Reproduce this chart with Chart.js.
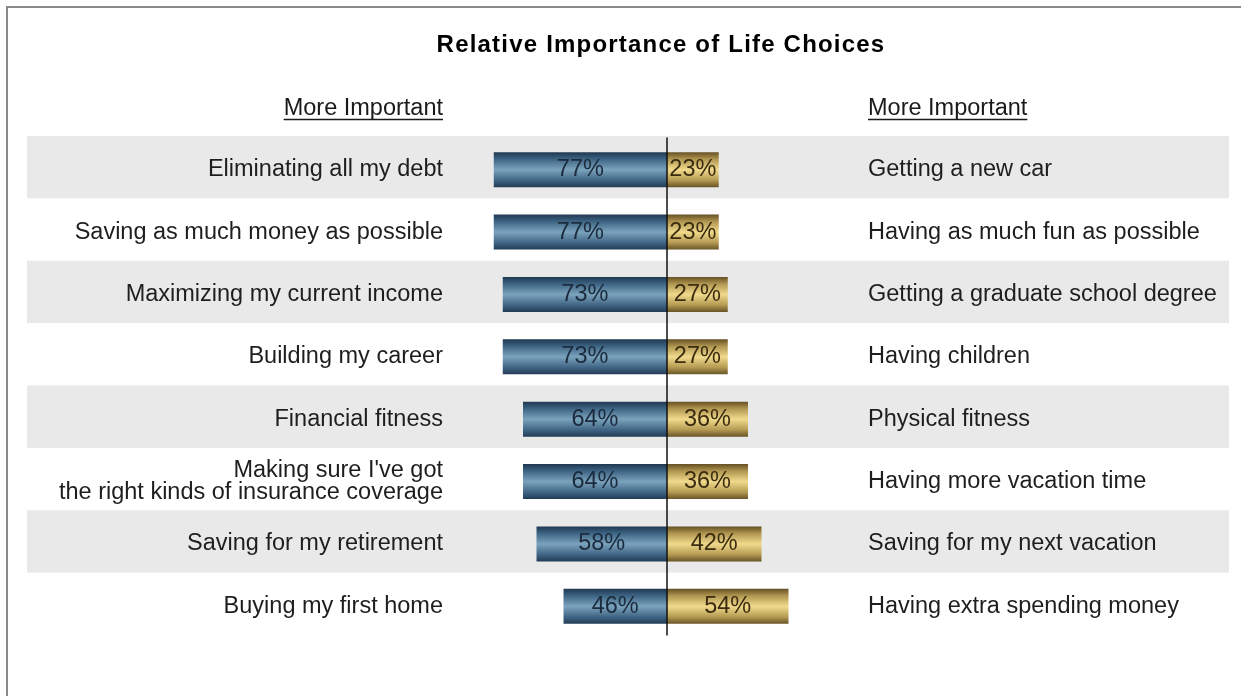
<!DOCTYPE html>
<html lang="en">
<head>
    <meta charset="UTF-8">
    <title>Relative Importance of Life Choices</title>
    <script src="https://cdn.jsdelivr.net/npm/chart.js"></script>
    <style>
        body {
            margin: 0;
            background: #fff;
            overflow: hidden;
        }
        #frame {
            position: absolute;
            left: 6px;
            top: 6px;
            width: 1300px;
            height: 800px;
            border-left: 2px solid #8a8a8a;
            border-top: 2px solid #8a8a8a;
        }
        #wrap {
            position: absolute;
            left: 0;
            top: 0;
            width: 1241px;
            height: 696px;
        }
    </style>
</head>
<body>
    <div id="frame"></div>
    <div id="wrap"><canvas id="choiceChart" width="1241" height="696"></canvas></div>

    <script>
        const chartTitle = 'Relative Importance of Life Choices';
        const headerText = 'More Important';

        const leftLabels = [
            'Eliminating all my debt',
            'Saving as much money as possible',
            'Maximizing my current income',
            'Building my career',
            'Financial fitness',
            ["Making sure I've got", 'the right kinds of insurance coverage'],
            'Saving for my retirement',
            'Buying my first home'
        ];
        const rightLabels = [
            'Getting a new car',
            'Having as much fun as possible',
            'Getting a graduate school degree',
            'Having children',
            'Physical fitness',
            'Having more vacation time',
            'Saving for my next vacation',
            'Having extra spending money'
        ];
        const leftShares = [77, 77, 73, 73, 64, 64, 58, 46];
        const rightShares = [23, 23, 27, 27, 36, 36, 42, 54];

        const FONT = '"Liberation Sans", Arial, sans-serif';

        // vertical metallic gradient for one bar
        function barGradient(context, stops) {
            const chart = context.chart;
            const yScale = chart.scales.y;
            if (!chart.chartArea || !yScale || context.dataIndex === undefined) return stops[2][1];
            const yc = yScale.getPixelForValue(context.dataIndex);
            const half = yScale.height / leftLabels.length * 0.56 / 2;
            const g = chart.ctx.createLinearGradient(0, yc - half, 0, yc + half);
            stops.forEach(s => g.addColorStop(s[0], s[1]));
            return g;
        }
        const blueStops = [[0, '#203850'], [0.18, '#3a6080'], [0.5, '#7ba3bc'], [0.82, '#3d6282'], [1, '#233c55']];
        const goldStops = [[0, '#665024'], [0.2, '#b09650'], [0.5, '#f1da8c'], [0.8, '#b59b53'], [1, '#695427']];

        // shaded bands behind every other row, plus title and column headers
        const backdrop = {
            id: 'backdrop',
            beforeDraw(chart) {
                const ctx = chart.ctx;
                const y = chart.scales.y;
                const rowH = y.height / leftLabels.length;
                ctx.save();
                ctx.fillStyle = '#e9e9e9';
                leftLabels.forEach((_, i) => {
                    if (i % 2 === 0) {
                        const yc = y.getPixelForValue(i) - 2.5;
                        ctx.fillRect(27, yc - rowH / 2, 1202, rowH);
                    }
                });

                ctx.fillStyle = '#000';
                ctx.font = 'bold 24px ' + FONT;
                ctx.letterSpacing = '1.2px';
                ctx.textAlign = 'center';
                ctx.textBaseline = 'alphabetic';
                ctx.fillText(chartTitle, 661, 52);
                ctx.letterSpacing = '0px';

                ctx.fillStyle = '#1a1a1a';
                ctx.strokeStyle = '#1a1a1a';
                ctx.lineWidth = 1.3;
                ctx.font = '23.5px ' + FONT;
                const lx = chart.scales.y.right - 8;
                const rx = chart.scales.y2.left + 7.5;
                ctx.textAlign = 'right';
                ctx.fillText(headerText, lx, 115);
                let w = ctx.measureText(headerText).width;
                ctx.beginPath();
                ctx.moveTo(lx - w, 119.5);
                ctx.lineTo(lx, 119.5);
                ctx.stroke();
                ctx.textAlign = 'left';
                ctx.fillText(headerText, rx, 115);
                ctx.beginPath();
                ctx.moveTo(rx, 119.5);
                ctx.lineTo(rx + w, 119.5);
                ctx.stroke();
                ctx.restore();
            }
        };

        // centre divider and the percentage printed inside each bar
        const barText = {
            id: 'barText',
            afterDatasetsDraw(chart) {
                const ctx = chart.ctx;
                const x0 = chart.scales.x.getPixelForValue(0);
                ctx.save();
                ctx.strokeStyle = '#111';
                ctx.lineWidth = 1.5;
                ctx.beginPath();
                ctx.moveTo(x0, chart.chartArea.top - 1);
                ctx.lineTo(x0, chart.chartArea.bottom - 2);
                ctx.stroke();

                ctx.font = '23.5px ' + FONT;
                ctx.textAlign = 'center';
                ctx.textBaseline = 'middle';
                const colors = ['#1b2b3d', '#3b2c10'];
                chart.data.datasets.forEach((ds, di) => {
                    const meta = chart.getDatasetMeta(di);
                    ctx.fillStyle = colors[di];
                    meta.data.forEach((bar, i) => {
                        const v = Math.abs(ds.data[i]);
                        ctx.fillText(v + '%', (bar.x + bar.base) / 2, bar.y);
                    });
                });
                ctx.restore();
            }
        };

        new Chart(document.getElementById('choiceChart'), {
            type: 'bar',
            data: {
                labels: leftLabels,
                datasets: [
                    {
                        data: leftShares.map(v => -v),
                        backgroundColor: c => barGradient(c, blueStops),
                        borderWidth: 0,
                        barPercentage: 0.56,
                        categoryPercentage: 1
                    },
                    {
                        data: rightShares,
                        backgroundColor: c => barGradient(c, goldStops),
                        borderWidth: 0,
                        barPercentage: 0.56,
                        categoryPercentage: 1
                    }
                ]
            },
            options: {
                indexAxis: 'y',
                responsive: false,
                animation: false,
                layout: {
                    padding: { top: 138.5, bottom: 58.5, left: 0, right: 0 }
                },
                plugins: {
                    legend: { display: false },
                    tooltip: { enabled: false },
                    title: { display: false }
                },
                scales: {
                    x: {
                        display: false,
                        stacked: true,
                        min: -96,
                        max: 86
                    },
                    y: {
                        position: 'left',
                        stacked: true,
                        grid: { display: false, drawTicks: false },
                        border: { display: false },
                        ticks: {
                            color: '#1e1e1e',
                            padding: 8,
                            font: { family: FONT, size: 23.5, lineHeight: 0.9 }
                        },
                        afterFit(scale) { scale.width = 451; }
                    },
                    y2: {
                        type: 'category',
                        position: 'right',
                        labels: rightLabels,
                        offset: true,
                        grid: { display: false, drawTicks: false },
                        border: { display: false },
                        ticks: {
                            color: '#1e1e1e',
                            padding: 7.5,
                            font: { family: FONT, size: 23.5 }
                        },
                        afterFit(scale) { scale.width = 380.5; }
                    }
                }
            },
            plugins: [backdrop, barText]
        });
    </script>
</body>
</html>
